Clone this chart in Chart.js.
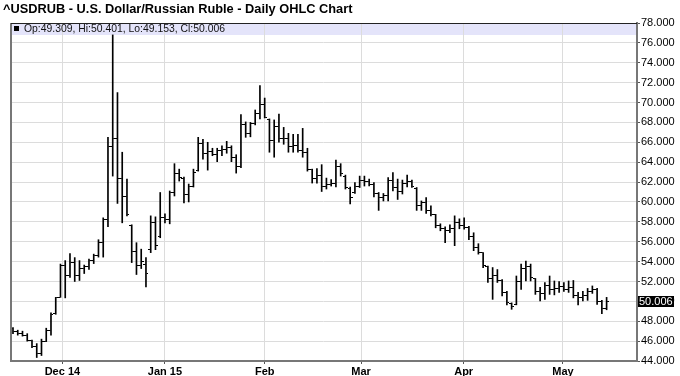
<!DOCTYPE html>
<html>
<head>
<meta charset="utf-8">
<title>USDRUB Daily OHLC</title>
<script src="https://cdn.jsdelivr.net/npm/chart.js@4.4.1/dist/chart.umd.min.js"></script>
<style>
  body { margin:0; background:#fff; font-family:"Liberation Sans", Arial, sans-serif; }
  #wrap { position:relative; width:680px; height:376px; }
  #title { position:absolute; left:3px; top:2px; font-size:12.8px; font-weight:bold; line-height:14px; color:#000; white-space:nowrap; }
  #ohlc { position:absolute; font-size:10.4px; line-height:12px; color:#111; white-space:nowrap; }
  #ohlc .sq { display:inline-block; width:5px; height:5px; background:#000; margin-right:5px; vertical-align:1px; }
  #lastBox { position:absolute; background:#000; color:#fff; font-size:11px; line-height:11px; padding:0 1px; white-space:nowrap; }
</style>
</head>
<body>
<div id="wrap">
  <canvas id="chart" width="680" height="376"></canvas>
  <div id="title">^USDRUB - U.S. Dollar/Russian Ruble - Daily OHLC Chart</div>
  <div id="ohlc"></div>
  <div id="lastBox"></div>
</div>
<script>
// ^USDRUB daily OHLC, mid Nov 2014 - mid May 2015 (one entry per trading day)

const opens = [
  47.25, 47.0, 46.8, 46.6, 46.1, 45.5, 44.8, 46.0, 47.1, 48.8,
  50.4, 53.6, 52.6, 53.9, 52.6, 53.3, 53.5, 54.1, 54.6, 55.9,
  58.2, 65.6, 66.4, 62.4, 60.5, 57.6, 55.0, 53.6, 53.7, 55.2,
  57.9, 56.5, 58.4, 58.2, 61.0, 62.9, 62.4, 60.7, 61.6, 63.2,
  65.9, 64.9, 65.1, 64.8, 65.2, 65.3, 65.5, 64.5, 63.6, 67.8,
  66.9, 67.9, 68.9, 69.8, 68.3, 66.2, 67.6, 66.4, 66.4, 65.6,
  65.7, 65.2, 65.0, 63.3, 62.4, 62.7, 61.6, 61.8, 61.9, 63.6,
  62.6, 61.4, 60.9, 61.6, 62.2, 62.1, 61.8, 60.8, 60.4, 60.6,
  62.2, 61.5, 61.1, 61.9, 62.1, 61.4, 59.6, 59.9, 59.1, 58.7,
  57.6, 57.3, 57.1, 57.3, 57.9, 57.6, 57.4, 56.5, 55.4, 54.9,
  53.5, 52.3, 52.6, 52.1, 50.9, 49.8, 49.7, 52.0, 53.3, 53.5,
  52.3, 51.0, 50.8, 51.6, 51.2, 51.3, 51.5, 51.2, 51.4, 50.6,
  50.4, 50.6, 51.0, 51.2, 50.0, 49.309
];

const highs = [
  47.35, 47.1, 47.0, 46.75, 46.1, 45.75, 46.2, 47.3, 48.85, 50.4,
  53.75, 54.1, 54.8, 54.4, 54.1, 53.65, 54.25, 54.75, 56.2, 58.4,
  66.5, 76.8, 71.0, 65.0, 62.3, 57.7, 55.9, 55.25, 54.4, 58.6,
  58.5, 60.95, 58.8, 61.1, 63.85, 63.3, 62.5, 61.8, 63.3, 66.5,
  66.3, 66.0, 65.4, 65.4, 65.65, 66.1, 65.65, 64.75, 68.8, 68.05,
  68.0, 69.25, 71.7, 70.45, 68.35, 68.25, 68.85, 67.5, 66.9, 66.8,
  66.8, 67.4, 65.4, 63.3, 63.35, 63.75, 62.4, 62.25, 64.2, 63.85,
  62.7, 61.5, 61.95, 62.6, 62.6, 62.3, 61.95, 60.95, 60.85, 62.45,
  62.95, 62.3, 62.2, 62.7, 62.2, 61.45, 60.1, 60.45, 59.6, 58.75,
  57.8, 57.5, 57.7, 58.6, 58.3, 58.4, 57.55, 56.9, 55.8, 54.9,
  53.55, 53.4, 53.2, 52.2, 51.0, 49.85, 52.55, 53.75, 54.05, 53.75,
  52.3, 51.4, 51.9, 52.55, 52.05, 52.0, 51.9, 52.05, 52.1, 50.9,
  51.0, 51.3, 51.55, 51.3, 50.1, 50.401
];

const lows = [
  46.75, 46.6, 46.5, 46.0, 45.35, 44.35, 44.55, 45.95, 46.6, 48.7,
  50.4, 50.35, 52.4, 52.0, 52.1, 52.8, 53.2, 53.8, 54.45, 54.45,
  57.5, 62.6, 59.85, 57.9, 58.6, 53.9, 52.7, 53.3, 51.45, 54.9,
  55.2, 56.4, 57.9, 57.8, 60.6, 62.1, 59.9, 60.0, 61.5, 63.1,
  64.3, 63.2, 64.65, 64.05, 64.65, 64.9, 64.05, 62.9, 63.45, 66.5,
  66.55, 67.75, 68.35, 68.45, 65.0, 64.5, 66.0, 65.8, 65.0, 65.0,
  65.0, 64.5, 63.1, 61.9, 61.9, 61.05, 61.3, 61.6, 61.5, 62.6,
  61.3, 59.8, 60.85, 61.45, 61.6, 61.6, 60.5, 59.15, 60.1, 60.1,
  61.1, 60.25, 60.8, 61.5, 61.45, 59.15, 59.15, 58.85, 58.6, 57.4,
  57.1, 55.9, 56.9, 55.6, 57.3, 57.25, 56.2, 55.1, 54.75, 53.4,
  51.9, 50.2, 51.9, 50.55, 49.65, 49.2, 49.65, 51.2, 52.05, 52.05,
  50.7, 50.05, 50.2, 50.7, 50.65, 50.9, 51.0, 50.9, 50.35, 49.65,
  50.05, 50.1, 50.8, 49.7, 48.75, 49.153
];

const closes = [
  47.0, 46.8, 46.6, 46.1, 45.5, 44.8, 46.0, 47.1, 48.7, 50.4,
  53.6, 52.6, 53.9, 52.6, 53.3, 53.5, 54.1, 54.6, 55.9, 58.2,
  65.6, 66.4, 62.4, 60.5, 58.7, 55.0, 53.6, 54.0, 52.8, 57.9,
  55.6, 58.4, 58.2, 60.9, 62.9, 62.5, 60.7, 61.6, 63.0, 65.9,
  64.9, 65.1, 64.8, 65.2, 65.3, 65.5, 64.5, 63.6, 67.8, 66.9,
  67.9, 68.9, 69.8, 68.5, 66.2, 67.6, 66.4, 66.4, 65.6, 65.7,
  65.2, 65.0, 63.3, 62.4, 62.7, 61.6, 61.8, 61.9, 63.6, 62.9,
  61.5, 60.4, 61.6, 62.2, 62.1, 61.8, 60.8, 60.4, 60.6, 62.2,
  61.5, 61.1, 61.9, 62.1, 61.6, 59.6, 59.9, 59.1, 58.7, 57.6,
  57.3, 57.1, 57.3, 57.9, 57.6, 57.4, 56.5, 55.4, 54.9, 53.6,
  52.3, 52.6, 52.1, 50.9, 49.9, 49.5, 52.0, 53.3, 53.5, 52.4,
  51.0, 50.8, 51.6, 51.2, 51.3, 51.5, 51.2, 51.4, 50.6, 50.4,
  50.6, 51.0, 51.2, 50.0, 49.3, 50.006
];

// month labels and the bar index where each month starts
const monthLabels = ['Dec 14', 'Jan 15', 'Feb', 'Mar', 'Apr', 'May'];
const monthPos = [10.4, 32, 53, 73.3, 94.9, 115.8];

const yTicksMin = 44;
const yTicksMax = 78;
const yStep = 2;

const FONT = '"Liberation Sans", Arial, sans-serif';
const n = closes.length;

//-----TICK MARKS (open on the left, close on the right)
function makeTick(side){
  const c = document.createElement('canvas');
  c.width = 5; c.height = 1;
  const g = c.getContext('2d');
  g.fillStyle = '#000';
  g.fillRect(side === 'left' ? 0 : 3, 0, 2, 1);
  return c;
}
const openTick = makeTick('left');
const closeTick = makeTick('right');

//-----HEADER / FRAME
const framePlugin = {
  id: 'framePlugin',
  beforeDraw(chart){
    const {ctx, chartArea: a} = chart;
    ctx.save();
    ctx.fillStyle = '#e4e4fa';
    ctx.fillRect(a.left, a.top, a.right - a.left, 12);
    ctx.restore();
  },
  afterDraw(chart){
    const {ctx, chartArea: a} = chart;
    ctx.save();
    ctx.strokeStyle = '#777';
    ctx.lineWidth = 2;
    ctx.beginPath();
    ctx.moveTo(a.left, a.top);
    ctx.lineTo(a.left, a.bottom);
    ctx.stroke();
    ctx.strokeStyle = '#222';
    ctx.lineWidth = 1;
    ctx.beginPath();
    ctx.moveTo(a.left, a.top + 0.5);
    ctx.lineTo(a.right, a.top + 0.5);
    ctx.stroke();
    ctx.restore();

    // overlay texts
    const hdr = document.getElementById('ohlc');
    hdr.style.left = (a.left + 3) + 'px';
    hdr.style.top = (a.top) + 'px';
    const box = document.getElementById('lastBox');
    const py = chart.scales.y.getPixelForValue(closes[n - 1]);
    box.style.left = (a.right + 1) + 'px';
    box.style.top = (py - 5) + 'px';
  }
};

document.getElementById('ohlc').innerHTML = '<span class="sq"></span>' +
  'Op:' + opens[n - 1].toFixed(3) + ', Hi:' + highs[n - 1].toFixed(3) +
  ', Lo:' + lows[n - 1].toFixed(3) + ', Cl:' + closes[n - 1].toFixed(3);
document.getElementById('lastBox').textContent = closes[n - 1].toFixed(3);

const rangeData = highs.map((h, i) => ({x: i, y: [lows[i], h]}));
const openData = opens.map((o, i) => ({x: i, y: o}));
const closeData = closes.map((c, i) => ({x: i, y: c}));

const ctx = document.getElementById('chart').getContext('2d');
const chart = new Chart(ctx, {
  type: 'bar',
  data: {
    datasets: [
      {
        type: 'bar',
        data: rangeData,
        backgroundColor: '#000',
        borderWidth: 0,
        barThickness: 1,
        grouped: false,
        order: 2
      },
      {
        type: 'scatter',
        data: openData,
        pointStyle: openTick,
        pointRadius: 2,
        order: 1
      },
      {
        type: 'scatter',
        data: closeData,
        pointStyle: closeTick,
        pointRadius: 2,
        order: 1
      }
    ]
  },
  options: {
    responsive: false,
    animation: false,
    devicePixelRatio: 1,
    layout: {padding: {left: 11, top: 23, right: 0, bottom: 0}},
    plugins: {legend: {display: false}, tooltip: {enabled: false}, title: {display: false}},
    scales: {
      x: {
        type: 'linear',
        min: -0.42,
        max: 131.4,
        offset: false,
        afterBuildTicks(s){ s.ticks = monthPos.map(v => ({value: v})); },
        afterFit(s){ s.height = 15; },
        ticks: {
          autoSkip: false,
          maxRotation: 0,
          padding: 1,
          color: '#000',
          font: {family: FONT, size: 11, weight: 'bold'},
          callback: (v, i) => monthLabels[i]
        },
        grid: {color: '#dcdcdc', tickColor: '#555', tickLength: 3, offset: false},
        border: {color: '#777', width: 2}
      },
      y: {
        position: 'right',
        min: yTicksMin,
        max: yTicksMax,
        afterFit(s){ s.width = 43; },
        ticks: {
          stepSize: yStep,
          padding: 1,
          color: '#000',
          font: {family: FONT, size: 11},
          callback: v => v.toFixed(3)
        },
        grid: {color: '#dcdcdc', tickColor: '#555', tickLength: 3},
        border: {color: '#777', width: 2}
      }
    }
  },
  plugins: [framePlugin]
});
</script>
</body>
</html>
